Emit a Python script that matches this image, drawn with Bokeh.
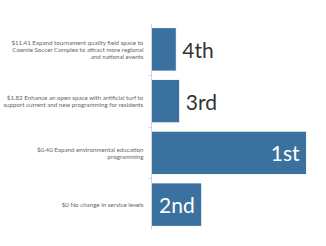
from bokeh.plotting import figure
from bokeh.models import ColumnDataSource, Range1d, FixedTicker, LabelSet, BoxAnnotation
from bokeh.core.properties import value
from bokeh.embed import file_html
from bokeh.resources import INLINE

labels = [
    "$11.41 Expand tournament quality field space to\nCownie Soccer Complex to attract more regional\nand national events",
    "$1.82 Enhance an open space with artificial turf to\nsupport current and new programming for residents",
    "$0.40 Expand environmental education\nprogramming",
    "$0 No change in service levels",
]
values = [16, 18.2, 100, 32.4]
ranks = ["4th", "3rd", "1st", "2nd"]
inside = [False, False, True, True]

pos = list(range(len(labels)))
src_out = ColumnDataSource(dict(
    y=[p for p, i in zip(pos, inside) if not i],
    x=[v for v, i in zip(values, inside) if not i],
    t=[r for r, i in zip(ranks, inside) if not i]))
src_in = ColumnDataSource(dict(
    y=[p for p, i in zip(pos, inside) if i],
    x=[v for v, i in zip(values, inside) if i],
    t=[r for r, i in zip(ranks, inside) if i]))

p = figure(width=310, height=230, output_backend="svg", toolbar_location=None,
           x_range=Range1d(0, 102.5), y_range=Range1d(3.5, -0.5))
p.min_border_left = 147
p.min_border_top = 23
p.min_border_bottom = 0
p.min_border_right = 0
p.outline_line_color = None
p.grid.visible = False
p.xaxis.visible = False

card = BoxAnnotation(left=0.5, top=1.5, right=400, bottom=400,
                     left_units="canvas", right_units="canvas",
                     top_units="canvas", bottom_units="canvas",
                     fill_color=None, line_color="#cccccc", line_width=1,
                     border_radius=4, level="underlay")
p.add_layout(card)

p.hbar(y=pos, right=values, left=0, height=0.84, fill_color="#3a719e",
       line_color="#ffffff", line_width=1)

ax = p.yaxis[0]
ax.ticker = FixedTicker(ticks=pos, minor_ticks=[0.5, 1.5, 2.5])
ax.major_label_overrides = {i: l for i, l in enumerate(labels)}
ax.major_tick_line_color = None
ax.minor_tick_line_color = "#ccd6eb"
ax.minor_tick_out = 3
ax.minor_tick_in = 0
ax.axis_line_color = "#ccd6eb"
ax.major_label_text_font = "Lato"
ax.major_label_text_font_size = "6.2px"
ax.major_label_text_color = "#666666"
ax.major_label_standoff = 2
ax.major_label_text_line_height = 1.05

p.add_layout(LabelSet(x="x", y="y", text="t", source=src_out, x_offset=6,
                      text_align="left", text_baseline="middle",
                      text_font=value("Lato"), text_font_size="21px", text_color="#333333"))
p.add_layout(LabelSet(x="x", y="y", text="t", source=src_in, x_offset=-7,
                      text_align="right", text_baseline="middle",
                      text_font=value("Lato"), text_font_size="21px", text_color="#ffffff"))

open("out.html", "w").write(file_html(p, INLINE))
